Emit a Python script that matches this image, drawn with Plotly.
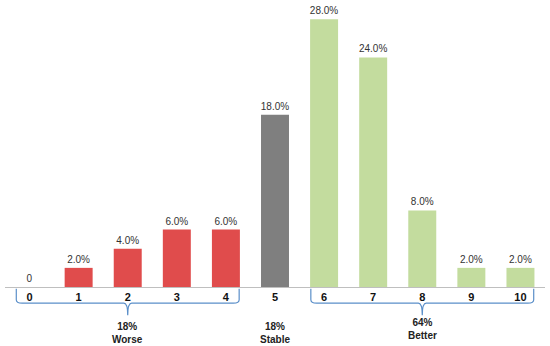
import plotly.graph_objects as go

scores = [0, 1, 2, 3, 4, 5, 6, 7, 8, 9, 10]
shares = [0, 2.0, 4.0, 6.0, 6.0, 18.0, 28.0, 24.0, 8.0, 2.0, 2.0]
groups = ["Worse"] * 5 + ["Stable"] + ["Better"] * 5
group_colors = {"Worse": "#E04C4C", "Stable": "#7F7F7F", "Better": "#C3DC9E"}
summary_labels = ["18%<br>Worse", "18%<br>Stable", "64%<br>Better"]
summary_x = [2, 5, 8]

labels = ["0" if v == 0 else f"{v:.1f}%" for v in shares]
colors = [group_colors[g] for g in groups]

fig = go.Figure()
fig.add_trace(go.Bar(
    x=scores, y=shares, width=0.57,
    marker=dict(color=colors, line=dict(width=0)),
    text=labels, textposition="outside", cliponaxis=False, constraintext="none",
    textfont=dict(family="Liberation Sans, Arial", size=10, color="#333333"),
))

brace_color = "#5B8FC9"
def brace(x0, x1, xm):
    ytop, ymid, ytip, r = -0.006, -0.056, -0.098, 0.12
    path = (f"M {x0},{ytop} L {x0},{ymid+0.012} Q {x0},{ymid} {x0+r},{ymid} "
            f"L {xm-0.08},{ymid} Q {xm},{ymid} {xm},{ytip} "
            f"Q {xm},{ymid} {xm+0.08},{ymid} L {x1-r},{ymid} "
            f"Q {x1},{ymid} {x1},{ymid+0.012} L {x1},{ytop}")
    fig.add_shape(type="path", path=path, xref="x", yref="paper",
                  line=dict(color=brace_color, width=1.2))

brace(-0.27, 4.27, 2)
brace(5.73, 10.27, 8)

for sx, lab in zip(summary_x, summary_labels):
    yy = -0.16 if sx != 8 else -0.146
    fig.add_annotation(x=sx, y=yy, xref="x", yref="paper", text=f"<b>{lab}</b>",
                       showarrow=False, yanchor="middle",
                       font=dict(family="Liberation Sans, Arial", size=10, color="#222222"))

fig.update_layout(
    width=550, height=346,
    margin=dict(l=5, r=5, t=0, b=59),
    plot_bgcolor="white", paper_bgcolor="white",
    showlegend=False,
    bargap=0.43,
    xaxis=dict(range=[-0.5, 10.5], tickmode="array", tickvals=scores,
               ticktext=[f"<b>{s}</b>" for s in scores],
               showline=True, linecolor="#BFBFBF", linewidth=1,
               showgrid=False, zeroline=False, ticks="", ticklabelstandoff=0,
               tickfont=dict(family="Liberation Sans, Arial", size=11, color="#111111")),
    yaxis=dict(range=[0, 30], visible=False, showgrid=False, zeroline=False),
)

fig.write_html("out.html", config={"displayModeBar": False},
               post_script="document.body.style.margin='0px';document.body.style.overflow='hidden';")
